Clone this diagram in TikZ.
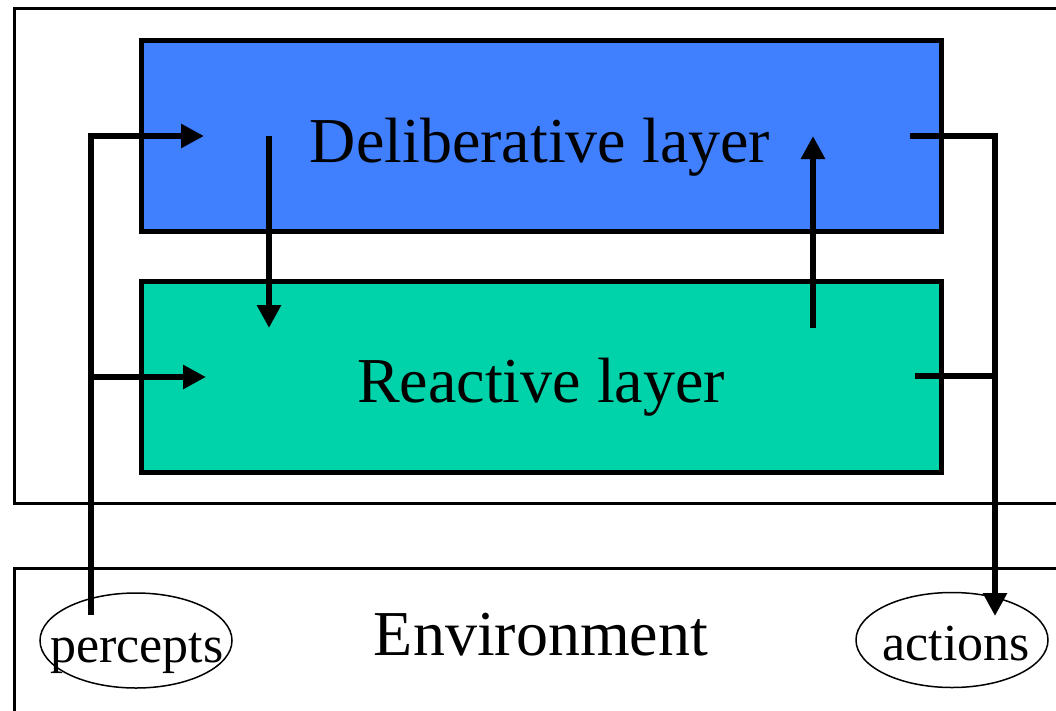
\documentclass[tikz,border=0pt]{standalone}
\usepackage{fontspec}
\setmainfont{Liberation Serif}
\usetikzlibrary{arrows.meta}
\definecolor{delibblue}{RGB}{64,128,255}
\definecolor{reactteal}{RGB}{0,210,170}
\tikzset{
  frame/.style={draw=black, line width=3pt},
  layerbox/.style={draw=black, line width=5pt, rectangle, inner sep=0pt, minimum width=800pt},
  bigtext/.style={anchor=base, inner sep=0pt, font=\fontsize{64}{70}\selectfont},
  ell/.style={draw=black, line width=1.5pt, ellipse, inner sep=0pt, minimum width=192pt, minimum height=95pt},
  elltext/.style={anchor=base, inner sep=0pt, font=\fontsize{52}{58}\selectfont},
  flow/.style={draw=black, line width=6pt, line join=miter},
  flowarrow/.style={flow, -{Triangle[length=23pt,width=23pt]}},
}
\usetikzlibrary{shapes.geometric}
\begin{document}
\begin{tikzpicture}[x=1pt,y=-1pt]
\useasboundingbox (0,0) rectangle (1056,710);
\fill[white] (0,0) rectangle (1056,710);
% frames
\draw[frame] (1070,8) -- (14,8) -- (14,503.5) -- (1070,503.5);
\draw[frame] (1070,568) -- (14,568) -- (14,720);
% layers
\node[layerbox, fill=delibblue, minimum height=190.5pt] (delib) at (541.5,135.75) {};
\node[layerbox, fill=reactteal, minimum height=191pt] (react) at (541.5,376.5) {};
\node[bigtext] (deltext) at (540,162) {Deliberative layer};
\node[bigtext] (reacttext) at (541,402) {Reactive layer};
\node[bigtext] (envtext) at (541,655) {Environment};
% ellipses
\node[ell] (percepts) at (136,640.5) {};
\node[ell] (actions) at (952,640) {};
\node[elltext] (perctext) at (137,662) {percepts};
\node[elltext] (acttext) at (956,660) {actions};
% coordinates
\coordinate (pin) at (91,615);
\coordinate (pcorner) at (91,136);
\coordinate (pdel) at (204,136);
\coordinate (pbranch) at (91,377);
\coordinate (preact) at (206,377);
\coordinate (downstart) at (269,136);
\coordinate (downend) at (269,328);
\coordinate (upstart) at (813,328);
\coordinate (upend) at (813,136);
\coordinate (dout) at (910,136);
\coordinate (acorner) at (995,136);
\coordinate (aend) at (995,616);
\coordinate (rout) at (915,376);
\coordinate (rjoin) at (995,376);
% connectors
\draw[flowarrow] (pin) -- (pcorner) -- (pdel);
\draw[flowarrow] (pbranch) -- (preact);
\draw[flowarrow] (downstart) -- (downend);
\draw[flowarrow] (upstart) -- (upend);
\draw[flowarrow] (dout) -- (acorner) -- (aend);
\draw[flow] (rout) -- (rjoin);
\end{tikzpicture}
\end{document}
